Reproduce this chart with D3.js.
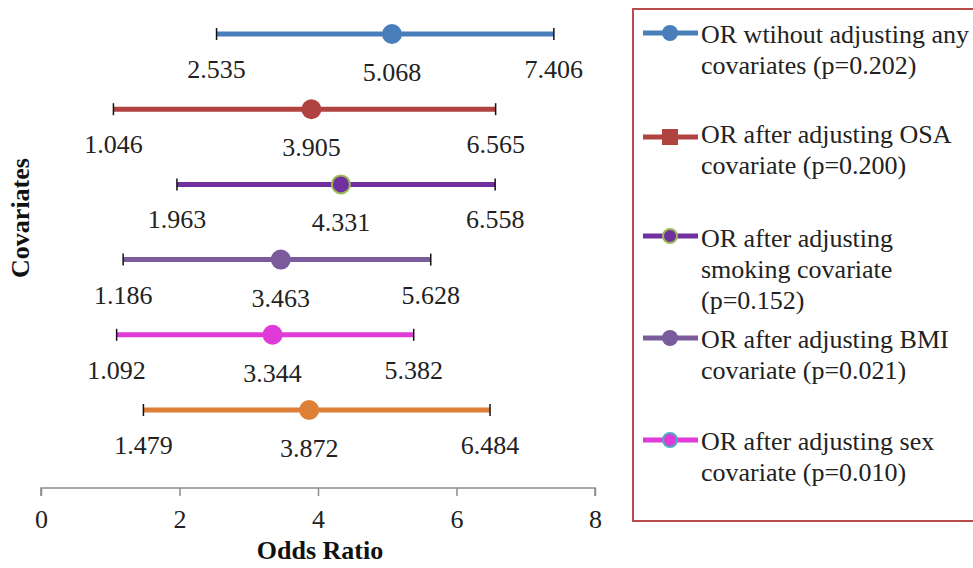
<!DOCTYPE html>
<html>
<head>
<meta charset="utf-8">
<script src="https://cdn.jsdelivr.net/npm/d3@7"></script>
<style>
  html, body { margin: 0; padding: 0; background: #fff; }
  svg text { font-family: "Liberation Serif", "Times New Roman", serif; }
</style>
</head>
<body>
<svg id="chart" width="973" height="568"></svg>
<script>
// ---- Data ----
const seriesNames = [
  ["OR wtihout adjusting any", "covariates (p=0.202)"],
  ["OR after adjusting OSA", "covariate (p=0.200)"],
  ["OR after adjusting", "smoking covariate", "(p=0.152)"],
  ["OR after adjusting BMI", "covariate (p=0.021)"],
  ["OR after adjusting sex", "covariate (p=0.010)"]
];
const rowKeys = ["none", "OSA", "smoking", "BMI", "sex", "all"];
const lowerCI = [2.535, 1.046, 1.963, 1.186, 1.092, 1.479];
const oddsRatio = [5.068, 3.905, 4.331, 3.463, 3.344, 3.872];
const upperCI = [7.406, 6.565, 6.558, 5.628, 5.382, 6.484];
const xTicks = [0, 2, 4, 6, 8];

// ---- Styles ----
const lineColors = ["#4a7ebb", "#b0433f", "#7030a0", "#7a5c9c", "#e03bd8", "#de7f37"];
const markerStroke = [null, null, "#9bbb59", null, null, null];
const legendStroke = [null, null, "#9bbb59", null, "#4bacc6"];
const legendShape = ["circle", "square", "circle", "circle", "circle"];

const svg = d3.select("#chart");
const x = d3.scaleLinear().domain([0, 8]).range([41, 595]);
const y = d3.scalePoint().domain(rowKeys).range([34, 410]);

// ---- Axis ----
const axisY = 488;
const axisG = svg.append("g").attr("transform", `translate(0,${axisY})`);
axisG.call(d3.axisBottom(x).tickValues(xTicks).tickSize(8).tickPadding(12).tickFormat(d3.format("d")));
axisG.select(".domain").attr("stroke", "#8c8c8c").attr("stroke-width", 1.5)
  .attr("d", `M${x(0)},8V0H${x(8)}V8`);
axisG.selectAll(".tick line").attr("stroke", "#8c8c8c").attr("stroke-width", 1.5);
axisG.selectAll(".tick text").attr("font-size", 26).attr("fill", "#222")
  .attr("font-family", "Liberation Serif").attr("dy", "0.75em");

svg.append("text").attr("x", (x(0) + x(8)) / 2 + 2).attr("y", 559)
  .attr("text-anchor", "middle").attr("font-size", 26).attr("font-weight", "bold")
  .attr("fill", "#111").text("Odds Ratio");
svg.append("text").attr("transform", "translate(29,218) rotate(-90)")
  .attr("text-anchor", "middle").attr("font-size", 26).attr("font-weight", "bold")
  .attr("fill", "#111").text("Covariates");

// ---- Rows ----
const rows = rowKeys.map((k, i) => ({k, i, lo: lowerCI[i], or: oddsRatio[i], hi: upperCI[i]}));
const g = svg.append("g");
const row = g.selectAll("g.row").data(rows).join("g").attr("class", "row");

row.append("line")
  .attr("x1", d => x(d.lo)).attr("x2", d => x(d.hi))
  .attr("y1", d => y(d.k)).attr("y2", d => y(d.k))
  .attr("stroke", d => lineColors[d.i]).attr("stroke-width", 5);
["lo", "hi"].forEach(end => {
  row.append("line")
    .attr("x1", d => x(d[end])).attr("x2", d => x(d[end]))
    .attr("y1", d => y(d.k) - 6).attr("y2", d => y(d.k) + 6)
    .attr("stroke", "#111").attr("stroke-width", 1.5);
});
row.append("circle")
  .attr("cx", d => x(d.or)).attr("cy", d => y(d.k))
  .attr("r", d => markerStroke[d.i] ? 9 : 10)
  .attr("fill", d => lineColors[d.i])
  .attr("stroke", d => markerStroke[d.i] || "none").attr("stroke-width", 2);

const labelSpecs = [["lo", 44], ["or", 47], ["hi", 44]];
labelSpecs.forEach(([key, off]) => {
  row.append("text")
    .attr("x", d => x(d[key])).attr("y", d => y(d.k) + off)
    .attr("text-anchor", "middle").attr("font-size", 26).attr("fill", "#222")
    .text(d => d3.format(".3f")(d[key]));
});

// ---- Legend ----
svg.append("rect").attr("x", 633).attr("y", 9).attr("width", 360).attr("height", 512)
  .attr("fill", "none").attr("stroke", "#b94c4a").attr("stroke-width", 2);
const legendY = [33, 137, 236, 338, 440];
const legendBase = [43, 143, 247, 348, 450];
const lg = svg.append("g").selectAll("g").data(seriesNames).join("g");
lg.append("line").attr("x1", 643).attr("x2", 698)
  .attr("y1", (d, i) => legendY[i]).attr("y2", (d, i) => legendY[i])
  .attr("stroke", (d, i) => lineColors[i]).attr("stroke-width", 5);
lg.each(function(d, i) {
  const s = d3.select(this);
  if (legendShape[i] === "square") {
    s.append("rect").attr("x", 662).attr("y", legendY[i] - 8).attr("width", 16).attr("height", 16)
      .attr("fill", lineColors[i]);
  } else {
    s.append("circle").attr("cx", 670).attr("cy", legendY[i])
      .attr("r", legendStroke[i] ? 7 : 8).attr("fill", lineColors[i])
      .attr("stroke", legendStroke[i] || "none").attr("stroke-width", 2);
  }
  d.forEach((t, j) => {
    s.append("text").attr("x", 701).attr("y", legendBase[i] + j * 31)
      .attr("font-size", 26).attr("fill", "#222").text(t);
  });
});
</script>
</body>
</html>
